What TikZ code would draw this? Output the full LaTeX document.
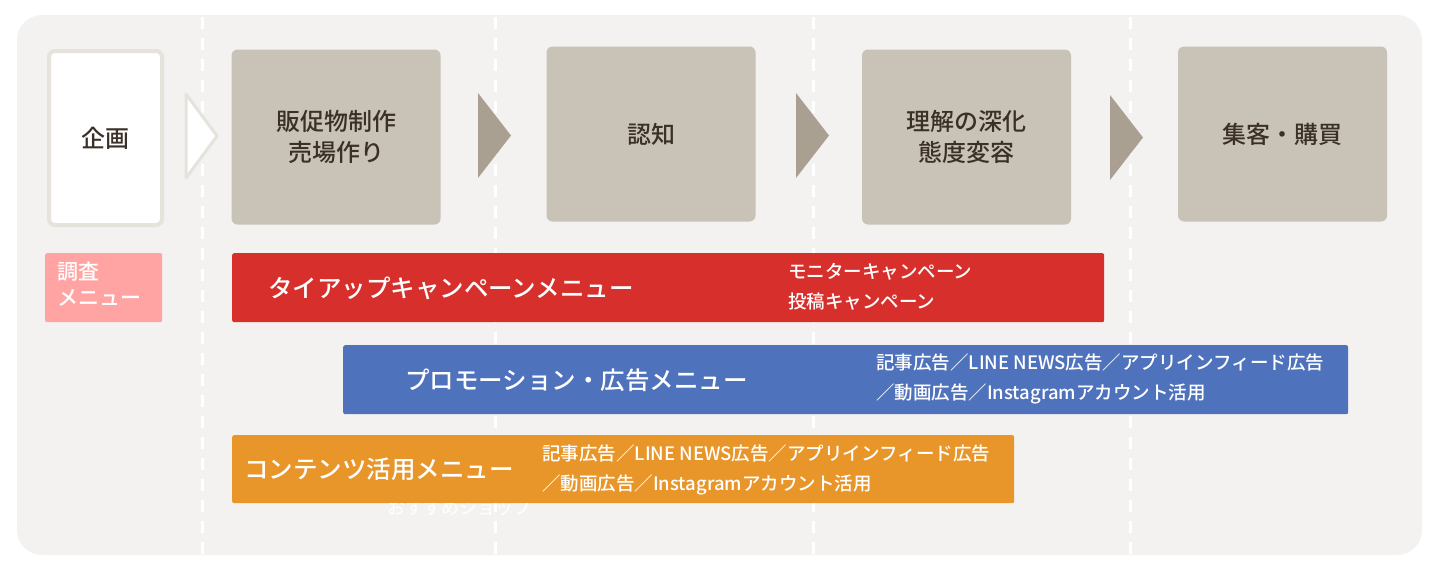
\documentclass[tikz,border=0pt]{standalone}
\usepackage{fontspec}
\setmainfont{Noto Sans CJK JP}[UprightFont=* Medium]
\definecolor{bgc}{HTML}{F3F2F0}
\definecolor{stepc}{HTML}{C9C2B6}
\definecolor{arrc}{HTML}{A9A091}
\definecolor{edgec}{HTML}{E6E2DC}
\definecolor{txtc}{HTML}{3B3026}
\definecolor{redc}{HTML}{D7302C}
\definecolor{bluec}{HTML}{4F72BC}
\definecolor{orac}{HTML}{E8962A}
\definecolor{pinkc}{HTML}{FFA4A3}
\tikzset{
  stepbox/.style={fill=stepc, rounded corners=6pt, minimum width=209pt, minimum height=175pt, align=center, text=txtc, font=\fontsize{24}{31}\selectfont, inner sep=0pt},
  bar/.style={rounded corners=2pt, anchor=north west, inner sep=0pt},
  bigtxt/.style={anchor=west, text=white, font=\fontsize{24.5}{30}\selectfont, inner sep=0pt},
  smalltxt/.style={anchor=west, text=white, align=left, font=\fontsize{18.5}{30}\selectfont, inner sep=0pt},
  sep/.style={white, line width=3pt, dash pattern=on 12pt off 9pt},
}
\begin{document}
\begin{tikzpicture}[x=1pt,y=-1pt]
\useasboundingbox (0,0) rectangle (1440,563);
\fill[bgc, rounded corners=25pt] (17,15) rectangle (1422,555);
\foreach \x in {202,495,813,1130} \draw[sep] (\x,17) -- (\x,555);
% planning box
\node[draw=edgec, line width=4pt, fill=white, rounded corners=6pt, minimum width=113pt, minimum height=174pt, inner sep=0pt, text=txtc, font=\fontsize{24}{30}\selectfont] (plan) at (105.5,138) {企画};
\fill[white, draw=edgec, line width=3pt, line join=round] (186,94) -- (217,136) -- (186,178) -- cycle;
% steps
\node[stepbox] (s1) at (336,137) {販促物制作\\売場作り};
\node[stepbox] (s2) at (651,134) {認知};
\node[stepbox] (s3) at (966.5,137) {理解の深化\\態度変容};
\node[stepbox] (s4) at (1282.5,134) {集客・購買};
\fill[arrc] (478,93) -- (511,135.5) -- (478,178) -- cycle;
\fill[arrc] (796,93) -- (829,135.5) -- (796,178) -- cycle;
\fill[arrc] (1110,95) -- (1143,137.5) -- (1110,180) -- cycle;
% research
\node[bar, fill=pinkc, minimum width=117pt, minimum height=69pt] (res) at (45,253) {};
\node[anchor=north west, text=white, align=left, inner sep=0pt, font=\fontsize{21}{26}\selectfont] (rest) at (57,262) {調査\\メニュー};
% red bar
\node[bar, fill=redc, minimum width=872pt, minimum height=69pt] (red) at (232,253) {};
\node[bigtxt] (redt) at (268,288) {タイアップキャンペーンメニュー};
\node[smalltxt] (reds) at (788,287) {モニターキャンペーン\\投稿キャンペーン};
% blue bar
\node[bar, fill=bluec, minimum width=1005pt, minimum height=69pt] (blue) at (343,345) {};
\node[bigtxt] (bluet) at (405,380) {プロモーション・広告メニュー};
\node[smalltxt] (blues) at (876,379) {記事広告／LINE NEWS広告／アプリインフィード広告\\／動画広告／Instagramアカウント活用};
% orange bar
\node[bar, fill=orac, minimum width=782pt, minimum height=68pt] (ora) at (232,435) {};
\node[bigtxt] (orat) at (244,469) {コンテンツ活用メニュー};
\node[smalltxt] (oras) at (542,470) {記事広告／LINE NEWS広告／アプリインフィード広告\\／動画広告／Instagramアカウント活用};
% faint text partly hidden behind the orange bar
\begin{scope}
\clip (0,503) rectangle (1440,563);
\node[anchor=west, text=white, opacity=0.85, inner sep=0pt, font=\fontsize{18}{20}\selectfont] (shop) at (387,508) {おすすめショップ};
\end{scope}
\end{tikzpicture}
\end{document}
